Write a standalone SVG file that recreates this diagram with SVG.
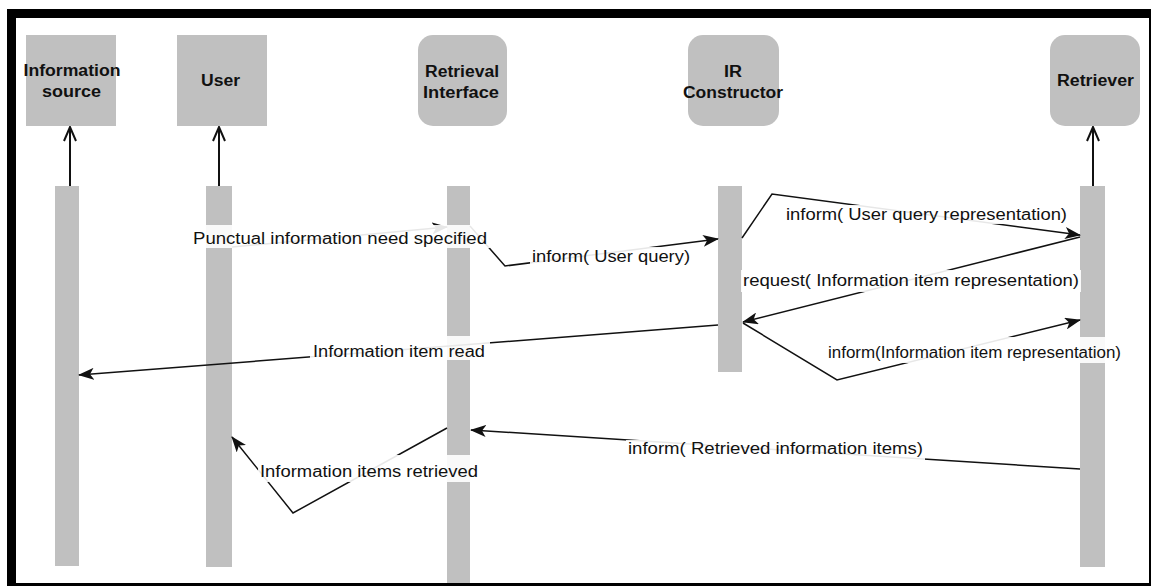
<svg xmlns="http://www.w3.org/2000/svg" width="1151" height="586" viewBox="0 0 1151 586">
<defs>
<style>
.hdr{fill:#c0c0c0;}
.bar{fill:#c0c0c0;}
.ht{font-family:"Liberation Sans",Arial,sans-serif;font-weight:bold;font-size:16px;fill:#111;text-anchor:middle;}
.lt{font-family:"Liberation Sans",Arial,sans-serif;font-size:16px;fill:#111;}
.ln{fill:none;stroke:#111;stroke-width:1.5;marker-end:url(#ah);}
.up{fill:none;stroke:#111;stroke-width:2;marker-end:url(#oa);}
.lb{fill:#fff;fill-opacity:0.9;}
</style>
<marker id="ah" viewBox="0 0 16 12" refX="15" refY="6" markerWidth="16" markerHeight="12" markerUnits="userSpaceOnUse" orient="auto">
<path d="M0,0 L16,6 L0,12 L4,6 Z" fill="#111"/>
</marker>
<marker id="oa" viewBox="0 0 16 14" refX="15" refY="7" markerWidth="16" markerHeight="14" markerUnits="userSpaceOnUse" orient="auto">
<path d="M1,1 L15,7 L1,13" fill="none" stroke="#111" stroke-width="2"/>
</marker>
</defs>
<rect x="0" y="0" width="1151" height="586" fill="#fff"/>
<g id="frame" fill="#000">
<rect x="7" y="9" width="1144" height="9"/>
<rect x="7" y="9" width="9" height="577"/>
<rect x="7" y="583" width="1144" height="3"/>
<rect x="1149" y="9" width="2" height="577"/>
</g>
<g id="node-information-source">
<rect class="hdr" x="26" y="35" width="90" height="91"/>
<text class="ht" x="72" y="76" textLength="97" lengthAdjust="spacingAndGlyphs">Information</text>
<text class="ht" x="71.5" y="97" textLength="59" lengthAdjust="spacingAndGlyphs">source</text>
<rect class="bar" x="55" y="186" width="24" height="380"/>
</g>
<g id="node-user">
<rect class="hdr" x="177" y="35" width="90" height="91"/>
<text class="ht" x="220.5" y="86" textLength="39" lengthAdjust="spacingAndGlyphs">User</text>
<rect class="bar" x="206" y="186" width="26" height="381"/>
</g>
<g id="node-retrieval-interface">
<rect class="hdr" x="418" y="35" width="89" height="91" rx="15"/>
<text class="ht" x="462" y="77" textLength="74" lengthAdjust="spacingAndGlyphs">Retrieval</text>
<text class="ht" x="461" y="98" textLength="76" lengthAdjust="spacingAndGlyphs">Interface</text>
<rect class="bar" x="447" y="186" width="23" height="397"/>
</g>
<g id="node-ir-constructor">
<rect class="hdr" x="688" y="35" width="91" height="91" rx="15"/>
<text class="ht" x="733" y="77" textLength="18" lengthAdjust="spacingAndGlyphs">IR</text>
<text class="ht" x="733" y="98" textLength="100" lengthAdjust="spacingAndGlyphs">Constructor</text>
<rect class="bar" x="718" y="186" width="24" height="186"/>
</g>
<g id="node-retriever">
<rect class="hdr" x="1050" y="35" width="90" height="91" rx="15"/>
<text class="ht" x="1095.5" y="86" textLength="77" lengthAdjust="spacingAndGlyphs">Retriever</text>
<rect class="bar" x="1080" y="186" width="25" height="381"/>
</g>
<g id="connectors">
<line class="up" x1="70" y1="186" x2="70" y2="127"/>
<line class="up" x1="219" y1="186" x2="219" y2="127"/>
<line class="up" x1="1093" y1="186" x2="1093" y2="127"/>
<polyline class="ln" points="232,247 447,227"/>
<polyline class="ln" points="470,226 505,266 718,239"/>
<polyline class="ln" points="742,238 772,194 1080,235"/>
<polyline class="ln" points="1080,237 743,322"/>
<polyline class="ln" points="718,325 79,375"/>
<polyline class="ln" points="743,323 837,380 1080,320"/>
<polyline class="ln" points="1080,469 471,430"/>
<polyline class="ln" points="447,428 293,513 232,437"/>
<g id="labels">
<rect class="lb" x="190" y="225" width="300" height="23"/>
<text class="lt" x="193" y="244" textLength="294" lengthAdjust="spacingAndGlyphs">Punctual information need specified</text>
<rect class="lb" x="530" y="247" width="162" height="19"/>
<text class="lt" x="532" y="262" textLength="158" lengthAdjust="spacingAndGlyphs">inform( User query)</text>
<rect class="lb" x="784" y="205" width="285" height="19"/>
<text class="lt" x="786" y="220" textLength="281" lengthAdjust="spacingAndGlyphs">inform( User query representation)</text>
<rect class="lb" x="741" y="270" width="340" height="22"/>
<text class="lt" x="743" y="286" textLength="336" lengthAdjust="spacingAndGlyphs">request( Information item representation)</text>
<rect class="lb" x="826" y="337" width="297" height="26"/>
<text class="lt" x="828" y="358" textLength="293" lengthAdjust="spacingAndGlyphs">inform(Information item representation)</text>
<rect class="lb" x="310" y="336" width="180" height="24"/>
<text class="lt" x="313" y="357" textLength="172" lengthAdjust="spacingAndGlyphs">Information item read</text>
<rect class="lb" x="626" y="440" width="299" height="20"/>
<text class="lt" x="628" y="454" textLength="295" lengthAdjust="spacingAndGlyphs">inform( Retrieved information items)</text>
<rect class="lb" x="258" y="455" width="222" height="27"/>
<text class="lt" x="260" y="477" textLength="218" lengthAdjust="spacingAndGlyphs">Information items retrieved</text>
</g>
</g>
</svg>
